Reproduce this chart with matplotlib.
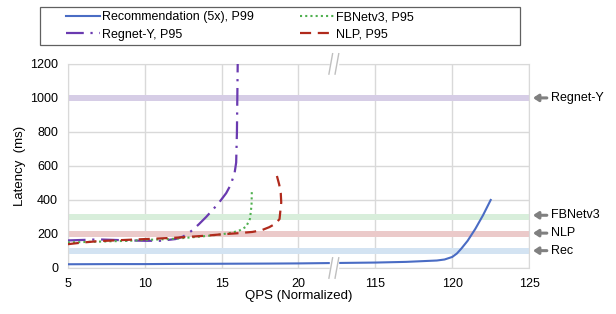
import numpy as np
import matplotlib.pyplot as plt
from matplotlib.patches import Rectangle

plt.rcParams['font.family'] = ['Liberation Sans', 'DejaVu Sans']

# x axis is broken: 5..20 on the left, 115..125 on the right
rec_qps = [5, 8, 10, 12, 15, 18, 20, 113, 115, 117, 118, 119, 119.5, 120, 120.3, 120.6, 121, 121.5, 122, 122.5]
rec_lat = [22, 23, 23, 24, 25, 26, 27, 30, 32, 36, 40, 44, 50, 65, 85, 115, 160, 230, 310, 400]

regnet_qps = [5, 6, 7, 8, 9, 10, 11, 12, 12.5, 13, 13.5, 14, 14.8, 15.3, 15.6, 15.85, 15.95, 16.0, 16.05]
regnet_lat = [162, 165, 168, 165, 162, 160, 160, 170, 185, 215, 255, 300, 380, 440, 490, 560, 620, 800, 1200]

fbnet_qps = [5, 7, 9, 10, 11, 12, 13, 14, 15, 15.7, 16.2, 16.6, 16.85, 16.95, 16.97]
fbnet_lat = [150, 155, 160, 165, 168, 172, 180, 188, 198, 208, 222, 243, 290, 370, 463]

nlp_qps = [5, 6, 7, 8, 9, 10, 11, 12, 13, 14, 15, 16, 17, 17.6, 18.1, 18.5, 18.77, 18.88, 18.85, 18.75, 18.6]
nlp_lat = [140, 150, 158, 162, 166, 170, 174, 178, 184, 190, 198, 204, 212, 222, 240, 260, 288, 386, 440, 490, 541]

band_names = ['Regnet-Y', 'FBNetv3', 'NLP', 'Rec']
band_lat = [1000, 300, 200, 100]
band_label_y = [1000, 310, 205, 102]
band_colors = ['#d6cde6', '#d8eedb', '#ebcaca', '#d3e3f2']

x_ticks = [5, 10, 15, 20, 115, 120, 125]


def pos(q):
    q = np.asarray(q, dtype=float)
    return np.where(q > 60, q - 90, q)


fig = plt.figure(figsize=(6.16, 3.14), dpi=100)
ax = fig.add_axes([0.110, 0.1465, 0.749, 0.65])

for y, c in zip(band_lat, band_colors):
    ax.axhspan(y - 20, y + 20, color=c, lw=0, zorder=1)

ax.plot(pos(rec_qps), rec_lat, color='#4a6cc4', lw=1.5, zorder=3, label='Recommendation (5x), P99')
ax.plot(pos(regnet_qps), regnet_lat, color='#6a3ab0', lw=1.6, ls=(0, (8, 3, 1, 3)), zorder=3, label='Regnet-Y, P95')
ax.plot(pos(fbnet_qps), fbnet_lat, color='#4fb04f', lw=1.5, ls=(0, (1, 1.5)), zorder=3, label='FBNetv3, P95')
ax.plot(pos(nlp_qps), nlp_lat, color='#b02a1c', lw=1.6, ls=(0, (5, 3)), zorder=3, label='NLP, P95')

ax.set_xlim(5, 35)
ax.set_ylim(0, 1200)
ax.set_xticks(pos(x_ticks))
ax.set_xticklabels([str(t) for t in x_ticks])
ax.set_yticks(range(0, 1201, 200))
ax.grid(True, color='#d9d9d9', lw=1, zorder=0)
ax.set_axisbelow(True)
for s in ax.spines.values():
    s.set_color('#d9d9d9')
ax.tick_params(length=0, labelsize=9, pad=7)
ax.set_xlabel('QPS (Normalized)', fontsize=9.5, labelpad=0)
ax.set_ylabel('Latency  (ms)', fontsize=9.5, labelpad=3)

# break marks
bx = 22.3
for yb in (0, 1):
    ax.fill_between([bx - 0.25, bx + 0.25], [yb * 1200 - 70, yb * 1200 - 70], [yb * 1200 + 70, yb * 1200 + 70],
                    color='white', zorder=4, clip_on=False)
    for dx in (-0.2, 0.2):
        ax.plot([bx + dx - 0.12, bx + dx + 0.12], [yb * 1200 - 60, yb * 1200 + 60],
                color='#bfbfbf', lw=1, zorder=5, clip_on=False)

for name, y in zip(band_names, band_label_y):
    ax.annotate('', xy=(35.25, y), xytext=(36.15, y), xycoords='data',
                arrowprops=dict(arrowstyle='-|>,head_width=0.2,head_length=0.3', lw=2.2, color='#808080',
                                shrinkA=0, shrinkB=0),
                annotation_clip=False)
    ax.text(36.4, y, name, fontsize=9, va='center', ha='left', clip_on=False)

# legend box drawn separately (wide frame, items on the left)
W, H = 616, 314
fig.patches.append(Rectangle((40 / W, 1 - 45 / H), 480 / W, 38 / H, transform=fig.transFigure,
                             fill=False, edgecolor='#606060', lw=0.9))
fig.legend(loc='upper left', bbox_to_anchor=(66 / W, 1 - 11 / H), ncol=2, fontsize=9,
           frameon=False, columnspacing=3.75, handlelength=2.7, handletextpad=0.15,
           borderpad=0, borderaxespad=0, labelspacing=0.45)

fig.savefig('out.png', dpi=100)
